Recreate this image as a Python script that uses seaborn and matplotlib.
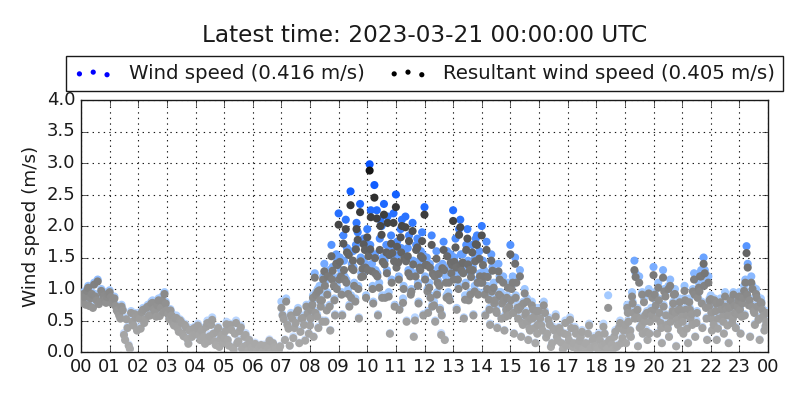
import numpy as np
import pandas as pd
import matplotlib
matplotlib.use("Agg")
import matplotlib.pyplot as plt
from matplotlib.colors import LinearSegmentedColormap
import seaborn as sns

# ---------------- data ----------------
title = "Latest time: 2023-03-21 00:00:00 UTC"
ws_label = "Wind speed (0.416 m/s)"
rs_label = "Resultant wind speed (0.405 m/s)"
y_label = "Wind speed (m/s)"
hour_ticks = list(range(0, 25))
hour_labels = ["%02d" % (h % 24) for h in hour_ticks]
y_ticks = [0.0, 0.5, 1.0, 1.5, 2.0, 2.5, 3.0, 3.5, 4.0]

# readings on the 5-minute marks (12 per row = one hour)
minutes_a = list(range(0, 1440, 5))
wind_speed_a = [
    0.85, 0.95, 0.78, 1.05, 0.88, 0.72, 0.92, 1.15, 0.82, 0.97, 0.86, 0.90,
    0.98, 0.80, 0.88, 0.70, 0.62, 0.75, 0.30, 0.55, 0.12, 0.65, 0.45, 0.58,
    0.62, 0.40, 0.70, 0.55, 0.75, 0.62, 0.82, 0.68, 0.78, 0.60, 0.88, 0.95,
    0.70, 0.55, 0.62, 0.45, 0.58, 0.35, 0.50, 0.28, 0.42, 0.15, 0.38, 0.30,
    0.32, 0.45, 0.22, 0.38, 0.15, 0.50, 0.28, 0.55, 0.20, 0.35, 0.10, 0.30,
    0.25, 0.48, 0.12, 0.38, 0.05, 0.50, 0.20, 0.42, 0.10, 0.30, 0.03, 0.15,
    0.05, 0.15, 0.02, 0.08, 0.00, 0.12, 0.03, 0.20, 0.02, 0.10, 0.00, 0.05,
    0.80, 0.55, 0.85, 0.40, 0.62, 0.25, 0.50, 0.70, 0.35, 0.58, 0.20, 0.65,
    0.45, 0.80, 1.25, 0.60, 1.05, 0.90, 1.40, 0.70, 1.30, 1.70, 1.15, 1.55,
    2.20, 1.30, 1.85, 2.10, 1.00, 2.55, 1.60, 0.85, 1.90, 2.35, 1.45, 1.75,
    1.95, 2.98, 1.40, 2.65, 2.25, 1.10, 2.00, 2.35, 1.70, 0.95, 1.85, 2.20,
    2.50, 1.55, 1.95, 0.85, 2.15, 1.65, 1.30, 2.05, 0.55, 1.80, 1.45, 1.90,
    2.30, 1.50, 1.10, 1.85, 0.80, 1.60, 1.35, 0.30, 1.75, 1.20, 0.95, 1.55,
    2.25, 1.80, 1.25, 2.10, 1.55, 0.90, 1.95, 1.40, 1.70, 1.05, 1.85, 1.60,
    2.00, 1.30, 1.75, 0.90, 1.55, 1.10, 0.70, 1.40, 0.95, 1.20, 0.60, 1.10,
    1.70, 1.20, 1.50, 0.75, 1.30, 0.50, 1.00, 0.85, 0.40, 0.80, 0.60, 0.70,
    0.70, 0.45, 0.80, 0.25, 0.55, 0.10, 0.40, 0.60, 0.20, 0.35, 0.05, 0.50,
    0.30, 0.55, 0.10, 0.40, 0.05, 0.20, 0.35, 0.00, 0.15, 0.45, 0.08, 0.25,
    0.10, 0.30, 0.02, 0.45, 0.15, 0.90, 0.20, 0.05, 0.35, 0.12, 0.50, 0.25,
    0.40, 0.75, 0.30, 0.95, 1.45, 0.60, 1.20, 0.45, 0.85, 0.35, 1.00, 0.70,
    1.35, 0.80, 1.10, 0.50, 1.30, 0.95, 0.40, 1.15, 0.70, 1.00, 0.55, 0.85,
    0.60, 1.05, 0.40, 0.85, 0.65, 1.25, 0.50, 1.10, 1.30, 1.50, 0.75, 1.20,
    0.90, 0.55, 0.70, 0.40, 0.85, 0.60, 0.95, 0.45, 0.75, 0.50, 0.80, 0.65,
    0.95, 0.60, 1.05, 1.68, 0.80, 1.20, 0.70, 1.00, 0.55, 0.85, 0.60, 0.42,
]
resultant_a = [
    0.82, 0.92, 0.75, 1.02, 0.85, 0.70, 0.88, 1.12, 0.80, 0.93, 0.83, 0.87,
    0.95, 0.77, 0.85, 0.66, 0.58, 0.72, 0.27, 0.52, 0.10, 0.62, 0.42, 0.55,
    0.58, 0.37, 0.67, 0.52, 0.72, 0.58, 0.78, 0.65, 0.74, 0.57, 0.82, 0.92,
    0.66, 0.52, 0.58, 0.42, 0.54, 0.32, 0.47, 0.25, 0.39, 0.13, 0.35, 0.27,
    0.29, 0.42, 0.19, 0.35, 0.13, 0.46, 0.25, 0.51, 0.17, 0.32, 0.08, 0.27,
    0.22, 0.44, 0.10, 0.35, 0.04, 0.46, 0.17, 0.39, 0.08, 0.27, 0.02, 0.13,
    0.04, 0.13, 0.02, 0.07, 0.00, 0.10, 0.02, 0.18, 0.01, 0.08, 0.00, 0.04,
    0.70, 0.52, 0.80, 0.37, 0.58, 0.22, 0.46, 0.66, 0.32, 0.54, 0.18, 0.61,
    0.42, 0.75, 1.18, 0.56, 0.98, 0.82, 1.28, 0.66, 1.20, 1.52, 1.05, 1.40,
    2.02, 1.20, 1.72, 1.95, 0.92, 2.33, 1.45, 0.80, 1.78, 2.22, 1.32, 1.62,
    1.82, 2.88, 1.28, 2.45, 2.12, 1.02, 1.86, 2.18, 1.58, 0.88, 1.72, 2.05,
    2.30, 1.42, 1.82, 0.78, 1.98, 1.52, 1.20, 1.92, 0.50, 1.66, 1.34, 1.76,
    2.18, 1.38, 1.02, 1.70, 0.74, 1.48, 1.24, 0.27, 1.62, 1.10, 0.88, 1.42,
    2.08, 1.66, 1.15, 1.98, 1.42, 0.83, 1.80, 1.30, 1.58, 0.96, 1.70, 1.48,
    1.85, 1.20, 1.62, 0.83, 1.45, 1.02, 0.65, 1.28, 0.88, 1.10, 0.56, 1.02,
    1.55, 1.10, 1.40, 0.70, 1.20, 0.46, 0.93, 0.80, 0.37, 0.74, 0.56, 0.65,
    0.65, 0.42, 0.74, 0.23, 0.51, 0.08, 0.37, 0.56, 0.18, 0.32, 0.04, 0.46,
    0.27, 0.51, 0.08, 0.37, 0.04, 0.18, 0.32, 0.00, 0.13, 0.42, 0.07, 0.22,
    0.08, 0.27, 0.02, 0.40, 0.13, 0.70, 0.18, 0.04, 0.32, 0.10, 0.46, 0.22,
    0.37, 0.70, 0.27, 0.88, 1.30, 0.56, 1.10, 0.42, 0.79, 0.32, 0.93, 0.65,
    1.22, 0.74, 1.02, 0.46, 1.18, 0.88, 0.37, 1.05, 0.65, 0.92, 0.51, 0.79,
    0.56, 0.97, 0.37, 0.79, 0.60, 1.15, 0.46, 1.02, 1.20, 1.40, 0.70, 1.10,
    0.84, 0.51, 0.65, 0.37, 0.79, 0.56, 0.88, 0.42, 0.70, 0.46, 0.74, 0.60,
    0.88, 0.56, 0.97, 1.57, 0.74, 1.10, 0.65, 0.92, 0.51, 0.79, 0.56, 0.41,
]

# readings half-way between the 5-minute marks
minutes_b = [m + 2.5 for m in range(0, 1440, 5)]
wind_speed_b = [
    0.80, 0.90, 1.00, 0.75, 0.95, 1.10, 0.85, 0.78, 1.00, 0.92, 0.80, 0.95,
    0.90, 0.85, 0.75, 0.65, 0.55, 0.68, 0.20, 0.40, 0.05, 0.50, 0.62, 0.35,
    0.55, 0.65, 0.48, 0.72, 0.60, 0.80, 0.70, 0.58, 0.85, 0.72, 0.65, 0.80,
    0.62, 0.68, 0.48, 0.55, 0.40, 0.52, 0.30, 0.45, 0.22, 0.35, 0.25, 0.40,
    0.40, 0.28, 0.35, 0.25, 0.42, 0.18, 0.45, 0.30, 0.12, 0.40, 0.22, 0.15,
    0.35, 0.20, 0.45, 0.08, 0.30, 0.15, 0.35, 0.05, 0.25, 0.12, 0.20, 0.08,
    0.10, 0.00, 0.05, 0.12, 0.02, 0.00, 0.08, 0.00, 0.15, 0.05, 0.02, 0.10,
    0.60, 0.20, 0.45, 0.10, 0.55, 0.40, 0.65, 0.15, 0.55, 0.45, 0.75, 0.30,
    0.70, 0.25, 0.95, 0.40, 0.75, 1.20, 0.50, 1.25, 0.35, 1.35, 0.60, 1.45,
    1.50, 0.60, 1.20, 1.65, 0.75, 1.40, 1.10, 2.05, 0.55, 1.25, 1.80, 0.90,
    1.60, 2.25, 0.80, 1.30, 0.60, 2.10, 1.50, 0.90, 2.15, 0.30, 1.65, 0.75,
    1.75, 0.70, 2.10, 1.55, 0.50, 1.85, 1.00, 0.25, 1.70, 0.80, 1.60, 0.60,
    1.45, 0.65, 0.90, 1.30, 0.50, 1.15, 0.70, 1.40, 0.20, 1.60, 0.85, 1.45,
    1.50, 0.70, 1.95, 1.35, 0.55, 1.70, 0.85, 1.25, 0.60, 1.80, 0.95, 1.15,
    1.45, 0.60, 1.25, 0.45, 1.35, 0.85, 0.40, 1.20, 0.80, 0.35, 0.90, 0.75,
    1.05, 0.30, 1.15, 0.70, 0.25, 0.80, 0.65, 0.20, 0.55, 0.70, 0.15, 0.45,
    0.55, 0.35, 0.65, 0.30, 0.45, 0.15, 0.35, 0.25, 0.40, 0.15, 0.30, 0.10,
    0.20, 0.40, 0.15, 0.30, 0.10, 0.25, 0.05, 0.15, 0.30, 0.05, 0.20, 0.10,
    0.05, 0.20, 0.10, 0.30, 0.05, 0.20, 0.12, 0.25, 0.08, 0.40, 0.15, 0.35,
    0.15, 0.50, 0.25, 0.65, 1.25, 0.10, 0.55, 0.30, 0.60, 0.20, 0.50, 0.90,
    0.95, 0.30, 0.65, 0.15, 1.00, 0.45, 0.25, 0.60, 0.95, 0.10, 0.70, 0.35,
    0.30, 0.70, 0.15, 0.55, 1.00, 0.25, 0.90, 1.25, 0.40, 1.30, 0.20, 0.85,
    0.35, 0.85, 0.20, 0.80, 0.55, 0.30, 0.70, 0.15, 0.60, 0.95, 0.40, 0.85,
    0.30, 0.90, 1.15, 1.40, 0.25, 1.05, 0.45, 0.75, 0.20, 0.70, 0.35, 0.65,
]
resultant_b = [
    0.78, 0.87, 0.97, 0.73, 0.92, 1.07, 0.82, 0.76, 0.97, 0.89, 0.78, 0.92,
    0.87, 0.82, 0.73, 0.63, 0.53, 0.66, 0.19, 0.38, 0.05, 0.48, 0.60, 0.34,
    0.53, 0.63, 0.46, 0.70, 0.58, 0.77, 0.68, 0.56, 0.82, 0.70, 0.63, 0.77,
    0.60, 0.66, 0.46, 0.53, 0.38, 0.50, 0.29, 0.43, 0.21, 0.34, 0.24, 0.38,
    0.38, 0.27, 0.34, 0.24, 0.40, 0.17, 0.43, 0.29, 0.11, 0.38, 0.21, 0.14,
    0.33, 0.19, 0.43, 0.07, 0.29, 0.14, 0.33, 0.05, 0.24, 0.11, 0.19, 0.07,
    0.09, 0.00, 0.05, 0.11, 0.02, 0.00, 0.07, 0.00, 0.14, 0.05, 0.02, 0.09,
    0.58, 0.19, 0.43, 0.10, 0.53, 0.38, 0.63, 0.14, 0.53, 0.43, 0.72, 0.29,
    0.67, 0.24, 0.91, 0.38, 0.72, 1.15, 0.48, 1.20, 0.34, 1.29, 0.58, 1.38,
    1.43, 0.58, 1.15, 1.58, 0.72, 1.33, 1.05, 1.95, 0.53, 1.19, 1.71, 0.86,
    1.52, 2.14, 0.77, 1.24, 0.58, 2.00, 1.43, 0.86, 2.05, 0.29, 1.57, 0.72,
    1.67, 0.67, 2.00, 1.48, 0.48, 1.76, 0.96, 0.24, 1.62, 0.77, 1.52, 0.58,
    1.38, 0.62, 0.86, 1.24, 0.48, 1.10, 0.67, 1.33, 0.19, 1.52, 0.82, 1.38,
    1.43, 0.67, 1.86, 1.29, 0.53, 1.62, 0.82, 1.19, 0.58, 1.71, 0.91, 1.10,
    1.38, 0.58, 1.19, 0.43, 1.29, 0.82, 0.38, 1.15, 0.77, 0.34, 0.86, 0.72,
    1.00, 0.29, 1.10, 0.67, 0.24, 0.77, 0.62, 0.19, 0.53, 0.67, 0.14, 0.43,
    0.53, 0.34, 0.62, 0.29, 0.43, 0.14, 0.34, 0.24, 0.38, 0.14, 0.29, 0.10,
    0.19, 0.38, 0.14, 0.29, 0.10, 0.24, 0.05, 0.14, 0.29, 0.05, 0.19, 0.10,
    0.05, 0.19, 0.10, 0.29, 0.05, 0.19, 0.12, 0.24, 0.08, 0.38, 0.14, 0.34,
    0.14, 0.48, 0.24, 0.62, 1.19, 0.09, 0.53, 0.29, 0.58, 0.19, 0.48, 0.86,
    0.91, 0.29, 0.62, 0.14, 0.96, 0.43, 0.24, 0.58, 0.91, 0.09, 0.67, 0.34,
    0.29, 0.67, 0.14, 0.53, 0.96, 0.24, 0.86, 1.20, 0.38, 1.25, 0.19, 0.82,
    0.34, 0.82, 0.19, 0.77, 0.53, 0.29, 0.67, 0.14, 0.58, 0.91, 0.38, 0.82,
    0.29, 0.86, 1.10, 1.34, 0.24, 1.00, 0.43, 0.72, 0.19, 0.67, 0.34, 0.62,
]

# extra readings in the busy periods 08:00-16:00 and 19:00-24:00
minutes_c = ([480 + 5 * k + 1.25 for k in range(96)]
             + [1140 + 5 * k + 1.25 for k in range(60)])
wind_speed_c = [
    0.55, 0.90, 0.65, 1.00, 0.85, 0.50, 1.10, 0.95, 0.75, 1.20, 0.85, 1.05,
    1.20, 0.95, 1.45, 1.15, 1.60, 0.90, 1.35, 1.70, 1.05, 1.50, 1.25, 1.40,
    1.35, 1.70, 1.05, 1.55, 1.25, 1.80, 0.90, 1.45, 1.30, 1.60, 1.15, 1.50,
    1.40, 1.20, 1.65, 1.05, 1.50, 1.30, 0.95, 1.45, 1.25, 1.10, 1.35, 1.55,
    1.20, 1.00, 1.40, 0.75, 1.25, 0.95, 1.10, 0.60, 1.35, 0.90, 1.15, 1.30,
    1.20, 1.40, 1.05, 1.55, 1.30, 1.10, 1.45, 0.95, 1.35, 1.50, 1.15, 1.25,
    1.15, 0.95, 1.05, 0.70, 1.00, 0.80, 0.65, 0.95, 0.55, 0.85, 0.70, 0.60,
    0.85, 0.65, 0.90, 0.55, 0.75, 0.45, 0.60, 0.50, 0.35, 0.55, 0.40, 0.30,
    0.45, 0.65, 0.35, 0.80, 0.55, 0.70, 0.40, 0.95, 0.50, 0.65, 0.30, 0.60,
    0.70, 0.55, 0.85, 0.40, 0.75, 0.60, 1.05, 0.50, 0.80, 0.65, 0.45, 0.70,
    0.50, 0.85, 0.60, 0.70, 0.45, 0.95, 0.65, 1.00, 0.80, 1.10, 0.55, 0.75,
    0.65, 0.45, 0.80, 0.55, 0.70, 0.50, 0.75, 0.60, 0.85, 0.55, 0.65, 0.75,
    0.70, 0.80, 0.60, 0.95, 0.85, 0.75, 0.65, 0.90, 0.55, 0.80, 0.60, 0.50,
]
resultant_c = [
    0.53, 0.86, 0.62, 0.96, 0.82, 0.48, 1.05, 0.91, 0.72, 1.15, 0.82, 1.00,
    1.15, 0.91, 1.30, 1.10, 1.54, 0.86, 1.30, 1.63, 1.00, 1.44, 1.20, 1.34,
    1.30, 1.63, 1.00, 1.49, 1.20, 1.62, 0.86, 1.39, 1.25, 1.54, 1.10, 1.44,
    1.34, 1.15, 1.58, 1.00, 1.44, 1.25, 0.91, 1.39, 1.20, 1.05, 1.30, 1.49,
    1.15, 0.96, 1.34, 0.72, 1.20, 0.91, 1.05, 0.58, 1.30, 0.86, 1.10, 1.25,
    1.15, 1.34, 1.00, 1.38, 1.25, 1.05, 1.39, 0.91, 1.30, 1.44, 1.10, 1.20,
    1.10, 0.91, 1.00, 0.67, 0.96, 0.77, 0.62, 0.91, 0.53, 0.82, 0.67, 0.58,
    0.82, 0.62, 0.86, 0.53, 0.72, 0.43, 0.58, 0.48, 0.34, 0.53, 0.38, 0.29,
    0.43, 0.62, 0.34, 0.77, 0.53, 0.67, 0.38, 0.91, 0.48, 0.62, 0.29, 0.58,
    0.67, 0.53, 0.82, 0.38, 0.72, 0.58, 1.00, 0.48, 0.77, 0.62, 0.43, 0.67,
    0.48, 0.82, 0.58, 0.67, 0.43, 0.91, 0.62, 0.96, 0.77, 1.05, 0.53, 0.72,
    0.62, 0.43, 0.77, 0.53, 0.67, 0.48, 0.72, 0.58, 0.82, 0.53, 0.62, 0.72,
    0.67, 0.77, 0.58, 0.91, 0.82, 0.72, 0.62, 0.86, 0.53, 0.77, 0.58, 0.48,
]

df = pd.DataFrame({
    "hour": np.array(minutes_a + minutes_b + minutes_c) / 60.0,
    "ws": wind_speed_a + wind_speed_b + wind_speed_c,
    "rs": resultant_a + resultant_b + resultant_c,
}).sort_values("hour")

# ---------------- style ----------------
sns.set_theme(style="white")
plt.style.use("classic")
plt.rcParams["font.family"] = ["DejaVu Sans"]

blue_cmap = LinearSegmentedColormap.from_list("blues", [
    (0.00, (0.84, 0.90, 1.00)),
    (0.33, (0.62, 0.78, 1.00)),
    (0.50, (0.42, 0.64, 1.00)),
    (0.67, (0.20, 0.48, 1.00)),
    (0.83, (0.08, 0.38, 1.00)),
    (1.00, (0.03, 0.33, 1.00)),
])
g = lambda v: (v / 255.0,) * 3
gray_cmap = LinearSegmentedColormap.from_list("grays", [
    (0.00, g(172)), (0.17, g(158)), (0.33, g(134)), (0.50, g(105)),
    (0.67, g(70)), (0.83, g(45)), (1.00, g(15)),
])

fig = plt.figure(figsize=(8, 4), dpi=100, facecolor="white")
ax = fig.add_axes([0.10125, 0.12, 0.85875, 0.63])
ax.set_facecolor("white")

sns.scatterplot(data=df, x="hour", y="ws", hue="ws", palette=blue_cmap,
                hue_norm=(0, 3), s=34, linewidth=0, legend=False, ax=ax,
                zorder=3)
sns.scatterplot(data=df, x="hour", y="rs", hue="rs", palette=gray_cmap,
                hue_norm=(0, 3), s=34, linewidth=0, legend=False, ax=ax,
                zorder=4)

ax.set_xlim(0, 24)
ax.set_ylim(0, 4)
ax.set_xticks(hour_ticks)
ax.set_xticklabels(hour_labels)
ax.set_yticks(y_ticks)
ax.set_yticklabels(["%.1f" % t for t in y_ticks])
ax.set_xlabel("")
ax.set_ylabel(y_label, fontsize=13.2)
ax.set_axisbelow(True)
ax.grid(True, linestyle=":", color="k", linewidth=0.8)
ax.tick_params(axis="both", which="major", direction="in", length=4,
               labelsize=13, top=True, right=True, pad=4)
for sp in ax.spines.values():
    sp.set_color("k")
    sp.set_linewidth(1)

h1 = ax.scatter([], [], s=14, c="blue", linewidths=0)
h2 = ax.scatter([], [], s=14, c="black", linewidths=0)
leg = ax.legend([h1, h2], [ws_label, rs_label], loc="lower center",
                bbox_to_anchor=(0.5, 1.036), ncol=2, borderaxespad=0,
                columnspacing=1.2, fontsize=14.2, frameon=True,
                fancybox=False, scatterpoints=3,
                scatteryoffsets=[0.375, 0.5, 0.3125], handlelength=2,
                handletextpad=0.8, borderpad=0.4)
leg.get_frame().set_edgecolor("k")
leg.get_frame().set_linewidth(1)

fig.text(0.53125, 1 - 35 / 400, title, ha="center", va="center",
         fontsize=16.7)

fig.savefig("out.png", dpi=100, facecolor="white")
